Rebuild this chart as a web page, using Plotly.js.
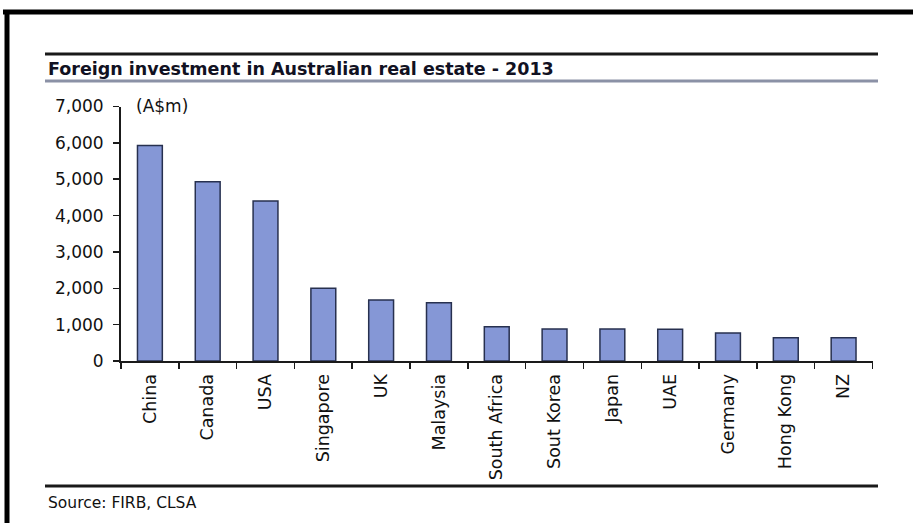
<!DOCTYPE html>
<html>
<head>
<meta charset="utf-8">
<script src="https://cdn.plot.ly/plotly-3.0.1.min.js"></script>
<style>
  html, body { margin: 0; padding: 0; background: #ffffff; }
  #chart { width: 913px; height: 523px; }
</style>
</head>
<body>
<div id="chart"></div>
<script>
// ---- data ----
const countries = ['China', 'Canada', 'USA', 'Singapore', 'UK', 'Malaysia', 'South Africa',
                   'Sout Korea', 'Japan', 'UAE', 'Germany', 'Hong Kong', 'NZ'];
const investment = [5930, 4930, 4400, 2000, 1680, 1600, 940, 880, 880, 870, 770, 640, 640];
const yTicks = [0, 1000, 2000, 3000, 4000, 5000, 6000, 7000];
const titleText = 'Foreign investment in Australian real estate - 2013';
const unitText = '(A$m)';
const sourceText = 'Source: FIRB, CLSA';

// ---- layout helpers (pixel -> paper) ----
const W = 913, H = 523;
const px = x => x / W;
const py = y => 1 - y / H;
const FONT = '"DejaVu Sans", Verdana, sans-serif';

const trace = {
  type: 'bar',
  x: countries,
  y: investment,
  width: 0.43,
  marker: { color: '#8597d6', line: { color: '#27304f', width: 1.5 } },
  hoverinfo: 'x+y'
};

function hline(x0, x1, y, w, c) {
  return { type: 'line', xref: 'paper', yref: 'paper', x0: px(x0), x1: px(x1), y0: py(y), y1: py(y),
           line: { color: c, width: w } };
}
function vline(x, y0, y1, w, c) {
  return { type: 'line', xref: 'paper', yref: 'paper', x0: px(x), x1: px(x), y0: py(y0), y1: py(y1),
           line: { color: c, width: w } };
}

const layout = {
  width: W, height: H,
  margin: { l: 0, r: 0, t: 0, b: 0 },
  paper_bgcolor: '#ffffff',
  plot_bgcolor: '#ffffff',
  showlegend: false,
  font: { family: FONT, size: 17, color: '#111111' },
  xaxis: {
    domain: [px(121), px(872.5)],
    type: 'category',
    showline: true, linecolor: '#1a1a1a', linewidth: 2,
    ticks: 'outside', ticklen: 6, tickwidth: 1.5, tickcolor: '#1a1a1a',
    tickson: 'boundaries',
    tickangle: -90,
    ticklabelstandoff: 4,
    showgrid: false, zeroline: false,
    tickfont: { family: FONT, size: 17.5, color: '#111111' },
    fixedrange: true
  },
  yaxis: {
    domain: [py(361), py(106.5)],
    range: [0, 7000],
    tickvals: yTicks,
    tickformat: ',d',
    showline: true, linecolor: '#1a1a1a', linewidth: 2,
    ticks: 'outside', ticklen: 6, tickwidth: 1.5, tickcolor: '#1a1a1a',
    ticklabelstandoff: 6,
    showgrid: false, zeroline: false,
    tickfont: { family: FONT, size: 17, color: '#111111' },
    fixedrange: true
  },
  shapes: [
    hline(3, 913, 12, 5, '#000000'),
    vline(7, 10, 523, 5, '#000000'),
    hline(45, 878, 54, 3, '#1a1a1a'),
    hline(45, 878, 81, 3, '#8b91a6'),
    hline(45, 878, 486, 3, '#1a1a1a')
  ],
  annotations: [
    { text: '<b>' + titleText + '</b>', xref: 'paper', yref: 'paper', x: px(46), y: py(69),
      xanchor: 'left', yanchor: 'middle', showarrow: false,
      font: { family: FONT, size: 17.5, color: '#111122' } },
    { text: unitText, xref: 'paper', yref: 'paper', x: px(134), y: py(106),
      xanchor: 'left', yanchor: 'middle', showarrow: false,
      font: { family: FONT, size: 17, color: '#111111' } },
    { text: sourceText, xref: 'paper', yref: 'paper', x: px(46), y: py(503),
      xanchor: 'left', yanchor: 'middle', showarrow: false,
      font: { family: FONT, size: 15.5, color: '#111111' } }
  ]
};

Plotly.newPlot('chart', [trace], layout, { displayModeBar: false, staticPlot: true });
</script>
</body>
</html>
